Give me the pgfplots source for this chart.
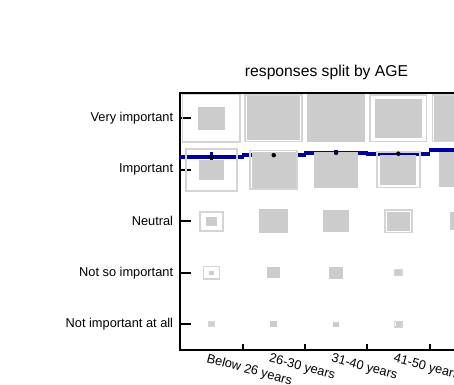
\documentclass[border=0pt]{standalone}
\usepackage{fontspec}
\setmainfont{Liberation Sans}
\usepackage{pgfplots}
\usepackage{pgfplotstable}
\pgfplotsset{compat=1.18}
\definecolor{boxfill}{RGB}{204,204,204}
\definecolor{boxline}{RGB}{212,212,212}
\definecolor{mblue}{RGB}{0,0,160}
\pgfdeclareplotmark{boxo}{\pgfpathrectangle{\pgfpoint{-\s*31.15pt+0.8pt}{-\s*25.75pt+0.8pt}}{\pgfpoint{\s*62.3pt-1.6pt}{\s*51.5pt-1.6pt}}\pgfusepathqstroke}
\pgfdeclareplotmark{boxf}{\pgfpathrectangle{\pgfpoint{-\s*31.15pt}{-\s*25.75pt}}{\pgfpoint{\s*62.3pt}{\s*51.5pt}}\pgfusepathqfill}
\pgfplotstableread{
x y s
1 5 0.95
2 5 0.94
4 5 0.93
5 5 0.93
1 4 0.845
2 4 0.78
4 4 0.72
1 3 0.40
4 3 0.46
1 2 0.28
4 2 0.145
1 1 0.11
4 1 0.145
}\outlinetab
\pgfplotstableread{
x y s
1 5 0.44
2 5 0.85
3 5 0.94
4 5 0.76
5 5 0.87
1 4 0.39
2 4 0.70
3 4 0.70
4 4 0.58
5 4 0.68
1 3 0.17
2 3 0.47
3 3 0.42
4 3 0.375
5 3 0.35
1 2 0.07
2 2 0.21
3 2 0.235
4 2 0.10
5 2 0.15
1 1 0.04
2 1 0.12
3 1 0.10
4 1 0.09
5 1 0.08
}\filltab
\pgfplotstableread{
x y ey
1 4.248 0.094
2 4.283 0.052
3 4.329 0.050
4 4.312 0.060
5 4.387 0.050
}\meantab
\pgfplotstableread{
x y
1.5 0.5
1.5 0.61
nan nan
2.5 0.5
2.5 0.61
nan nan
3.5 0.5
3.5 0.61
nan nan
4.5 0.5
4.5 0.61
nan nan
0.5 1
0.665 1
nan nan
0.5 2
0.665 2
nan nan
0.5 3
0.665 3
nan nan
0.5 4
0.665 4
nan nan
0.5 5
0.665 5
}\ticktab
\begin{document}
\begin{tikzpicture}
\begin{axis}[
  x=62.3pt, y=51.5pt,
  xmin=0.5, xmax=5.5, ymin=0.5, ymax=5.5,
  axis line style={line width=2pt, black},
  clip=false,
  tick pos=left,
  major tick length=0pt,
  tick style={draw opacity=0, opacity=0, line width=0pt},
  xtick={1,2,3,4,5},
  xticklabels={Below 26 years,26-30 years,31-40 years,41-50 years,51-60 years},
  ytick={1,2,3,4,5},
  yticklabels={Not important at all,Not so important,Neutral,Important,Very important},
  ticklabel style={font=\fontsize{12.8}{15}\selectfont},
  yticklabel style={inner sep=0pt, xshift=-7pt},
  xticklabel style={anchor=north west, inner sep=0pt, xshift=-3pt, yshift=-3pt, rotate=-15},
  title={responses split by AGE},
  title style={font=\fontsize{15.7}{18}\selectfont, at={(axis description cs:0.5,1)}, anchor=base, yshift=9.7pt, xshift=-9.5pt},
]
\addplot[only marks, mark=boxo, mark options={draw=boxline, line width=1.6pt},
  visualization depends on={\thisrow{s} \as \s}] table[x=x,y=y] \outlinetab;
\addplot[only marks, mark=boxf, mark options={fill=boxfill, draw=none},
  visualization depends on={\thisrow{s} \as \s}] table[x=x,y=y] \filltab;
\addplot[only marks, mark=none, error bars/.cd, x dir=both, x fixed=0.515, error mark=none,
  error bar style={line width=4pt, mblue}] table[x=x,y=y] \meantab;
\addplot[only marks, mark=*, mark size=1.2pt, mark options={black},
  error bars/.cd, y dir=both, y explicit, error mark=none,
  error bar style={line width=3.7pt, mblue}] table[x=x,y=y,y error=ey] \meantab;
% inward tick marks
\addplot[black, line width=2pt, mark=none, unbounded coords=jump] table[x=x,y=y] \ticktab;
\end{axis}
\pgfresetboundingbox
\useasboundingbox (-180.3pt,-34pt) rectangle (273.7pt,350pt);
\end{tikzpicture}
\end{document}
